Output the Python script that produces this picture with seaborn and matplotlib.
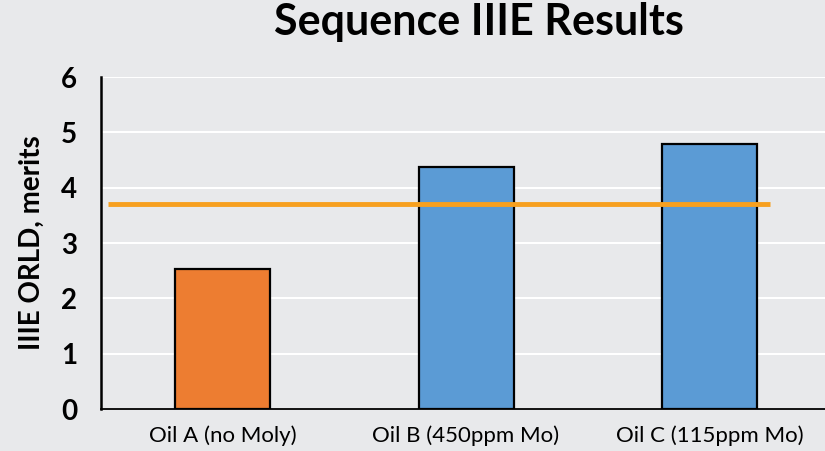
"""
Sequence IIIE results bar chart
"""

import matplotlib
matplotlib.use('Agg')
import matplotlib.pyplot as plt
import seaborn as sns

# Data
oils = ['Oil A (no Moly)', 'Oil B (450ppm Mo)', 'Oil C (115ppm Mo)']
orld = [2.53, 4.37, 4.79]
bar_colors = ['#ED7D31', '#5B9BD5', '#5B9BD5']
pass_limit = 3.71
y_ticks = [0, 1, 2, 3, 4, 5, 6]

bg = '#E8E9EB'

sns.set_style('white')
plt.rcParams['font.family'] = ['Lato', 'DejaVu Sans']
plt.rcParams['text.color'] = 'black'
plt.rcParams['xtick.color'] = 'black'
plt.rcParams['ytick.color'] = 'black'
plt.rcParams['axes.labelcolor'] = 'black'

fig = plt.figure(figsize=(8.25, 4.51), dpi=100, facecolor=bg)
ax = fig.add_axes([0.1224, 0.0931, 0.885, 0.736])
ax.set_facecolor(bg)

sns.barplot(x=oils, y=orld, hue=oils, palette=bar_colors, width=0.39,
            edgecolor='black', linewidth=1.6, saturation=1, legend=False, ax=ax)

# Minimum pass line
ax.hlines(pass_limit, -0.47, 2.25, color='#F7A01F', linewidth=3.5, zorder=3)

ax.set_ylim(0, 6)
ax.set_xlim(-0.5, 2.5)
ax.set_yticks(y_ticks)
ax.set_yticklabels([str(t) for t in y_ticks], fontsize=20, fontweight='bold')
ax.grid(True, axis='y', color='white', linewidth=1.5, zorder=0)
ax.set_axisbelow(True)

# category boundaries as ticks, labels in the middle
ax.set_xticks([-0.5, 0.5, 1.5], minor=False)
ax.set_xticklabels([])
ax.set_xticks([0, 1, 2], minor=True)
ax.set_xticklabels(oils, minor=True, fontsize=16)
ax.tick_params(axis='x', which='major', length=9, width=1, color='#444444', direction='out')
ax.tick_params(axis='x', which='minor', length=0, pad=12)
ax.tick_params(axis='y', length=7, width=1.3, color='black', direction='out', pad=10)

for s in ['top', 'right']:
    ax.spines[s].set_visible(False)
ax.spines['left'].set_color('black')
ax.spines['left'].set_linewidth(1.8)
ax.spines['bottom'].set_color('black')
ax.spines['bottom'].set_linewidth(1.3)

ax.set_ylabel('IIIE ORLD, merits', fontsize=20, fontweight='bold', labelpad=12)
ax.set_xlabel('')

fig.text(0.58, 0.951, 'Sequence IIIE Results', ha='center', va='center',
         fontsize=31, fontweight='bold')

plt.savefig('out.png', dpi=100, facecolor=bg)
plt.close()
